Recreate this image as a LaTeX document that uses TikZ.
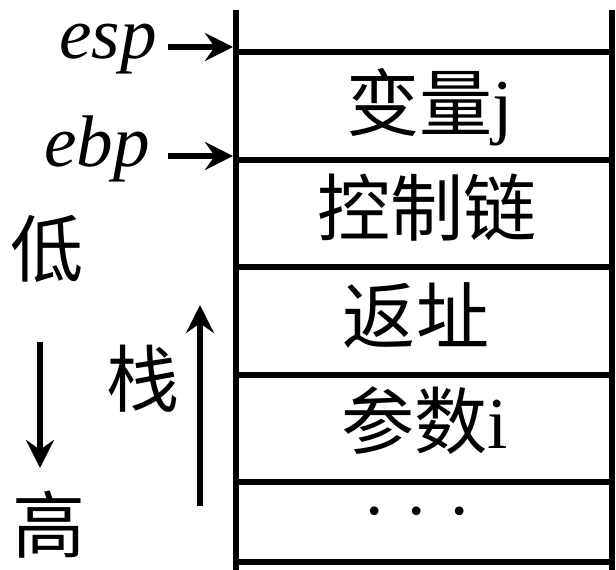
\documentclass[tikz,border=0pt]{standalone}
\usepackage{fontspec}
\setmainfont{Liberation Serif}
\newfontfamily\cjk{Noto Sans CJK SC}
\usetikzlibrary{arrows.meta}

\begin{document}
\begin{tikzpicture}[x = 0.025cm, y = -0.025cm,
	wall/.style = {line width = 4.3pt},
	ptr/.style = {line width = 4pt, -{Stealth[length = 20pt, width = 20pt, inset = 7pt]}},
	txt/.style = {font = \fontsize{52}{60}\selectfont\cjk, inner sep = 0pt},
	reg/.style = {font = \fontsize{52}{60}\selectfont\rmfamily\itshape, inner sep = 0pt}]
	\useasboundingbox (0, 0) rectangle (616, 570);
	%	stack setup
	
	\def\xl{236}
	\def\xr{612}
	\def\ytop{10}
	\def\ybot{570}
	
	%	walls
	\draw[wall] (\xl, \ytop) -- (\xl, \ybot);
	\draw[wall] (\xr, \ytop) -- (\xr, \ybot);
	\foreach \y in {52, 160, 267, 375, 482, 562}
		\draw[wall] (\xl, \y) -- (\xr, \y);
	
	%	slots
	\node[txt] (var) at (430, 107) {变量\rmfamily j};
	\node[txt] (link) at (427, 208) {控制链};
	\node[txt] (ret) at (416, 315) {返址};
	\node[txt] (arg) at (425, 421) {参数\rmfamily i};
	\node[txt, anchor = base, font = \fontsize{52}{60}\selectfont\rmfamily] (more) at (417, 535) {· · ·};
	
	%	registers
	\node[reg, anchor = base east] (esp) at (157, 59) {esp};
	\node[reg, anchor = base east] (ebp) at (150, 167) {ebp};
	\coordinate (esptip) at (\xl - 3, 47);
	\coordinate (ebptip) at (\xl - 3, 156);
	\draw[ptr] ([xshift = 8pt] esp.east |- esptip) -- (esptip);
	\draw[ptr] ([xshift = 13pt] ebp.east |- ebptip) -- (ebptip);
	
	%	address order
	\node[txt] (low) at (47, 249) {低};
	\node[txt] (high) at (49, 525) {高};
	\coordinate (downtop) at (40, 342);
	\coordinate (downend) at (40, 468);
	\draw[ptr] (downtop) -- (downend);
	
	%	growth
	\node[txt] (stack) at (143, 379) {栈};
	\coordinate (upfoot) at (200, 506);
	\coordinate (uptip) at (200, 305);
	\draw[ptr] (upfoot) -- (uptip);
\end{tikzpicture}
\end{document}
